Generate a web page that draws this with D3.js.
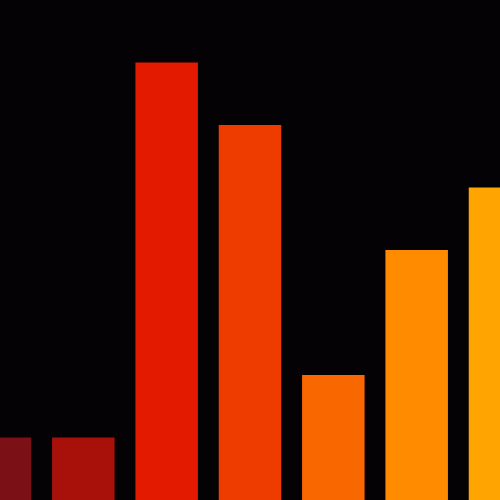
<!DOCTYPE html>
<html>
<head>
<meta charset="utf-8">
<script src="https://cdn.jsdelivr.net/npm/d3@7"></script>
<style>
	html, body { margin: 0; padding: 0; background: #040204; }
	svg { display: block; }
</style>
</head>
<body>
<script>
const categories = ['a', 'b', 'c', 'd', 'e', 'f', 'g'];
const values = [1, 1, 7, 6, 2, 4, 5];
const colors = ['#7b1016', '#a8110a', '#e31a00', '#ee3c00', '#f96800', '#ff8c00', '#ffa400'];

const width = 500;
const height = 500;

const svg = d3.select('body')
	.append('svg')
	.attr('width', width)
	.attr('height', height);

svg.append('rect')
	.attr('width', width)
	.attr('height', height)
	.attr('fill', '#040204');

// bar centres sit on 0 .. width, so the outer bars are half cut off
const step = width / (categories.length - 1);
const x = d3.scaleBand()
	.domain(categories)
	.range([-step / 2, width + step / 2])
	.paddingInner(0.25)
	.paddingOuter(0.125);

const y = d3.scaleLinear()
	.domain([0, 8])
	.range([height, 0]);

svg.append('g')
	.selectAll('rect')
	.data(values)
	.join('rect')
		.attr('x', (d, i) => x(categories[i]))
		.attr('y', d => y(d))
		.attr('width', x.bandwidth())
		.attr('height', d => y(0) - y(d))
		.attr('fill', (d, i) => colors[i]);
</script>
</body>
</html>
